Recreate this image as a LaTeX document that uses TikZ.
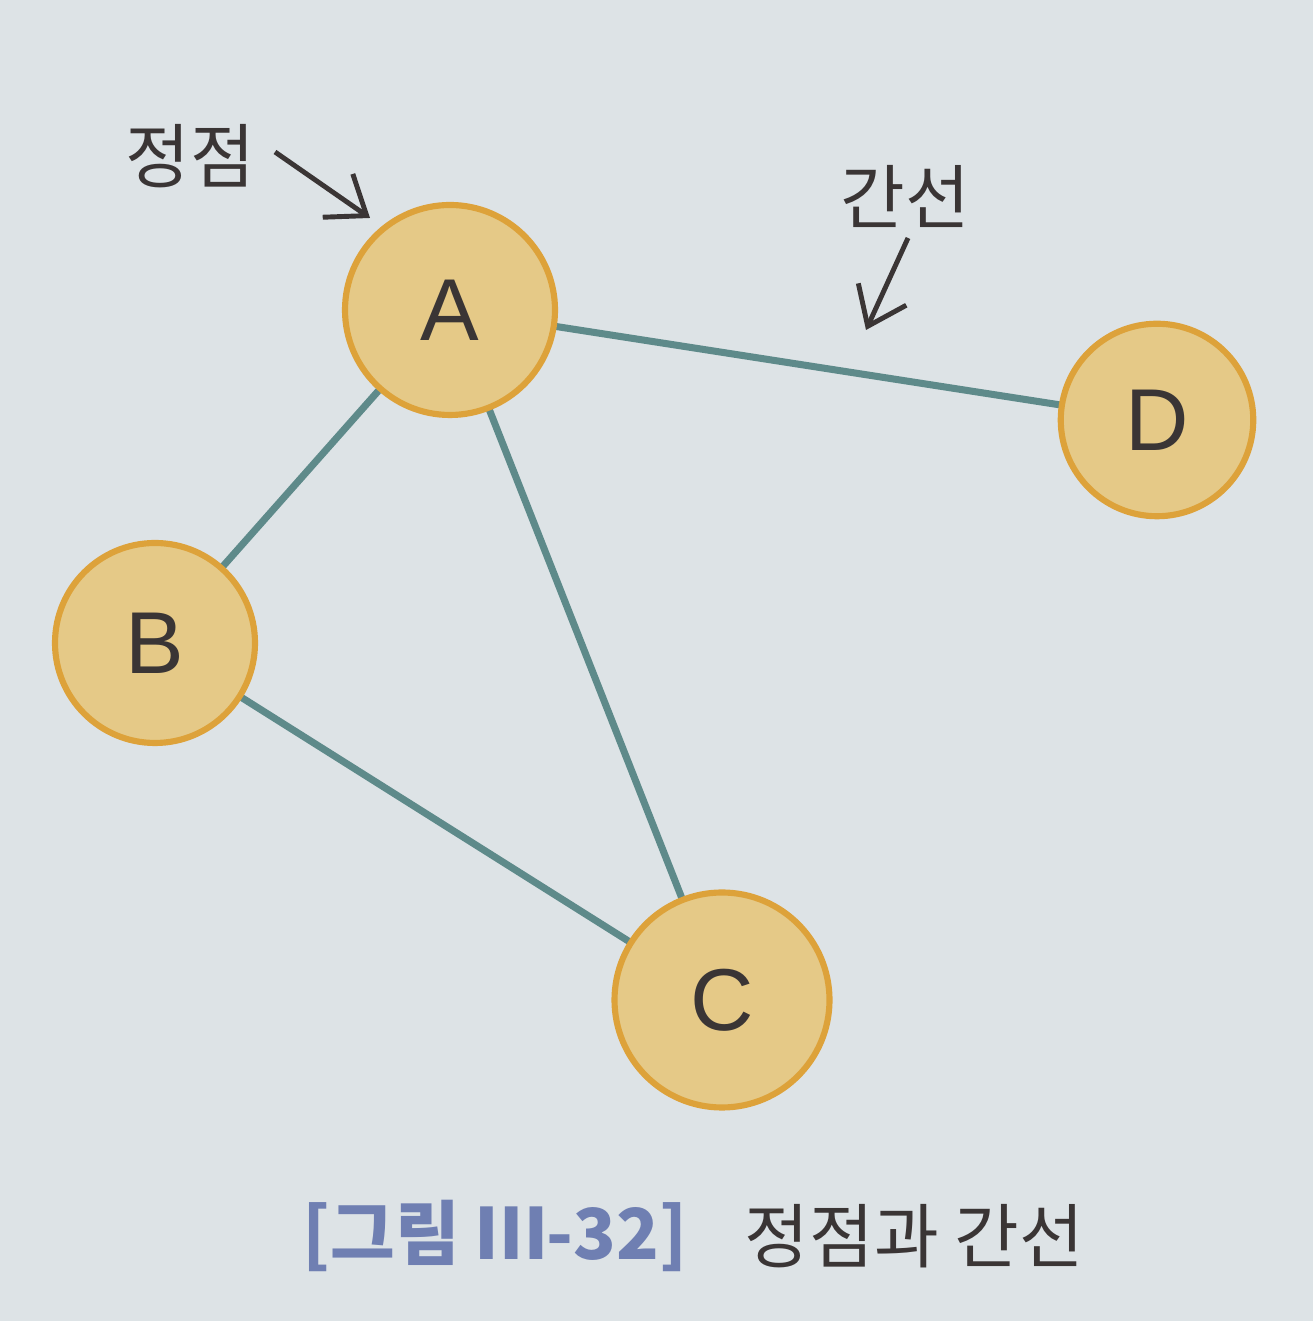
\documentclass[tikz,border=0pt]{standalone}
\usepackage{fontspec}
\setmainfont{Liberation Sans}
\newfontfamily\kor{Noto Sans CJK KR}
\usetikzlibrary{positioning, arrows.meta}

\definecolor{paper}{HTML}{DDE3E6}
\definecolor{vfill}{HTML}{E5C987}
\definecolor{vline}{HTML}{DDA23A}
\definecolor{eline}{HTML}{5E8A8A}
\definecolor{capblue}{HTML}{6F7FB2}
\definecolor{ink}{HTML}{3A3535}

\tikzset{
	vertex/.style={circle, fill=vfill, draw=vline, line width=3.5pt, text=ink, font=\fontsize{50}{50}\selectfont},
	edgeline/.style={draw=eline, line width=4pt},
	pointer/.style={draw=ink, line width=2.8pt, -{Straight Barb[length=20pt, width=30pt, line width=2.8pt]}},
	lbl/.style={text=ink, font=\kor\fontsize{40}{40}\selectfont}
}

\begin{document}
\begin{tikzpicture}
		\fill[paper] (0,0) rectangle (26.26,26.42);
		\useasboundingbox (0,0) rectangle (26.26,26.42);
		% edges first, circles on top
		\coordinate (a) at (9.0,20.22);
		\coordinate (b) at (3.1,13.56);
		\coordinate (c) at (14.44,6.42);
		\coordinate (d) at (23.14,18.02);
		\draw[edgeline] (a) -- (d);
		\draw[edgeline] (a) -- (b);
		\draw[edgeline] (a) -- (c);
		\draw[edgeline] (b) -- (c);
		\node[vertex, minimum size=4.2cm] (A) at (a) {A};
		\node[vertex, minimum size=4.0cm] (B) at (b) {B};
		\node[vertex, minimum size=4.3cm] (C) at (c) {C};
		\node[vertex, minimum size=3.85cm] (D) at (d) {D};
		% labels
		\node[lbl] (vtx) at (3.8,23.3) {정점};
		\node[lbl] (edg) at (18.1,22.5) {간선};
		\coordinate (vtxhead) at (7.4,22.06);
		\coordinate (edghead) at (17.32,19.82);
		\draw[pointer] (5.5,23.38) -- (vtxhead);
		\draw[pointer] (18.16,21.66) -- (edghead);
		% caption
		\node[text=capblue, font=\kor\bfseries\fontsize{40}{40}\selectfont] (fig) at (9.9,1.7) {[그림 Ⅲ-32]};
		\node[lbl, right=0.9cm of fig] (cap) {정점과 간선};
\end{tikzpicture}
\end{document}
